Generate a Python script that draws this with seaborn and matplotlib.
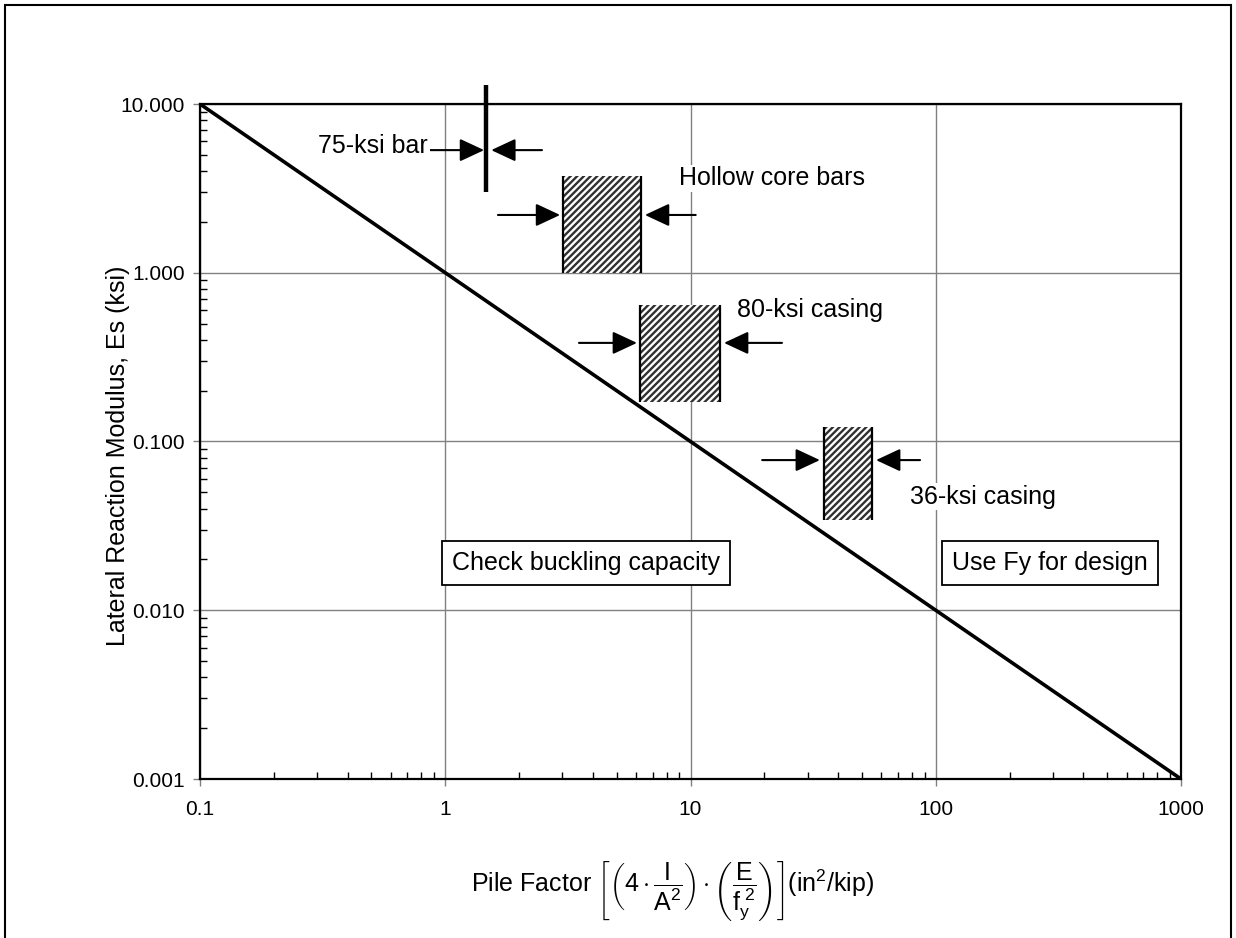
import matplotlib
matplotlib.use("Agg")
import matplotlib.pyplot as plt
import matplotlib.ticker as mticker
from matplotlib.patches import Rectangle
import pandas as pd
import seaborn as sns

# boundary line Es = 1 / pile factor
pile_factor = [0.1, 1000]
modulus = [10.0, 0.001]

x_ticks = [0.1, 1, 10, 100, 1000]
x_labels = ["0.1", "1", "10", "100", "1000"]
y_ticks = [0.001, 0.01, 0.1, 1, 10]
y_labels = ["0.001", "0.010", "0.100", "1.000", "10.000"]

# 75-ksi bar (single value of pile factor)
bar_x = 1.47
bar_y = [3.0, 13.0]

# hatched ranges: name, x from, x to, y from, y to
ranges = {
    "Hollow core bars": (3.02, 6.28, 1.0, 3.74),
    "80-ksi casing": (6.22, 13.2, 0.171, 0.644),
    "36-ksi casing": (35.0, 55.0, 0.0343, 0.122),
}

# arrows: (tail x, head x, y)
arrows = [
    (0.868, 1.44, 5.33), (2.48, 1.54, 5.33),
    (1.64, 2.94, 2.2), (10.5, 6.52, 2.2),
    (3.51, 6.05, 0.384), (23.6, 13.7, 0.384),
    (19.6, 33.7, 0.0776), (86.3, 57.1, 0.0776),
]

# labels: text, x, y, horizontal alignment
labels = [
    ("75-ksi bar", 0.851, 5.64, "right"),
    ("Hollow core bars", 8.97, 3.64, "left"),
    ("80-ksi casing", 15.5, 0.601, "left"),
    ("36-ksi casing", 78.5, 0.0469, "left"),
]
boxed = [
    ("Check buckling capacity", 3.75, 0.019),
    ("Use Fy for design", 292, 0.019),
]

sns.set_style("white")
plt.rcParams["font.family"] = ["Liberation Sans", "DejaVu Sans"]
plt.rcParams["mathtext.fontset"] = "custom"
plt.rcParams["mathtext.rm"] = "Liberation Sans"
plt.rcParams["mathtext.it"] = "Liberation Sans:italic"
plt.rcParams["hatch.linewidth"] = 1.7
plt.rcParams["text.color"] = "black"
plt.rcParams["axes.labelcolor"] = "black"
plt.rcParams["xtick.labelcolor"] = "black"
plt.rcParams["ytick.labelcolor"] = "black"

fig = plt.figure(figsize=(12.36, 9.38), dpi=100)
ax = fig.add_axes([200 / 1236, 1 - 779 / 938, 981 / 1236, 675 / 938])

df = pd.DataFrame({"pf": pile_factor, "es": modulus})
sns.lineplot(data=df, x="pf", y="es", color="black", linewidth=2.6, ax=ax)

ax.set_xscale("log")
ax.set_yscale("log")
ax.set_xlim(0.1, 1000)
ax.set_ylim(0.001, 10)

ax.xaxis.set_major_locator(mticker.FixedLocator(x_ticks))
ax.xaxis.set_major_formatter(mticker.FixedFormatter(x_labels))
ax.yaxis.set_major_locator(mticker.FixedLocator(y_ticks))
ax.yaxis.set_major_formatter(mticker.FixedFormatter(y_labels))
ax.xaxis.set_minor_locator(mticker.LogLocator(base=10, subs=range(2, 10)))
ax.yaxis.set_minor_locator(mticker.LogLocator(base=10, subs=range(2, 10)))
ax.xaxis.set_minor_formatter(mticker.NullFormatter())
ax.yaxis.set_minor_formatter(mticker.NullFormatter())

ax.tick_params(which="major", direction="out", length=5, width=1, color="gray",
               labelsize=15, pad=6, bottom=True, left=True, top=False, right=False)
ax.tick_params(which="minor", direction="in", length=5, width=1, color="black",
               bottom=True, left=True, top=False, right=False)
ax.tick_params(axis="x", which="major", pad=10)

ax.grid(True, which="major", color="#808080", linewidth=1)
for s in ax.spines.values():
    s.set_color("black")
    s.set_linewidth(1.6)
    s.set_zorder(5)

# 75-ksi bar
ax.vlines(bar_x, bar_y[0], bar_y[1], colors="black", linewidth=3.2, clip_on=False, zorder=4)

for name, (x0, x1, y0, y1) in ranges.items():
    ax.fill_betweenx([y0, y1], x0, x1, facecolor="white", hatch="/" * 5,
                     edgecolor="#303030", linewidth=0, zorder=3)
    ax.vlines([x0, x1], y0, y1, colors="black", linewidth=1.6, zorder=4)

for tail, head, y in arrows:
    ax.annotate("", xy=(head, y), xytext=(tail, y),
                arrowprops=dict(arrowstyle="-|>,head_length=0.75,head_width=0.35",
                                mutation_scale=20, color="black", lw=1.5,
                                shrinkA=0, shrinkB=0), zorder=4)

for txt, x, y, ha in labels:
    ax.text(x, y, txt, fontsize=18, ha=ha, va="center", zorder=4,
            bbox=dict(facecolor="white", edgecolor="none", pad=1))

for txt, x, y in boxed:
    ax.text(x, y, txt, fontsize=18, ha="center", va="center", zorder=4,
            bbox=dict(boxstyle="square,pad=0.4", facecolor="white",
                      edgecolor="black", linewidth=1.3))

ax.set_ylabel("Lateral Reaction Modulus, Es (ksi)", fontsize=18)
ax.yaxis.label.set_va("center")
ax.yaxis.set_label_coords(-0.084, 0.479)

ax.set_xlabel(r"Pile Factor $\left[\left(4\cdot\dfrac{\mathrm{I}}{\mathrm{A}^{2}}\right)\cdot"
              r"\left(\dfrac{\mathrm{E}}{\mathrm{f}_{\mathrm{y}}^{\ 2}}\right)\right]$(in$^{2}$/kip)",
              fontsize=18)
ax.xaxis.label.set_va("center")
ax.xaxis.set_label_coords(0.482, -0.166)

# outer border of the figure
fig.patches.append(Rectangle((5 / 1236, -0.05), 1226 / 1236, 1.05 - 5 / 938,
                             transform=fig.transFigure, fill=False,
                             edgecolor="black", linewidth=1.5))

fig.savefig("out.png", dpi=100)
